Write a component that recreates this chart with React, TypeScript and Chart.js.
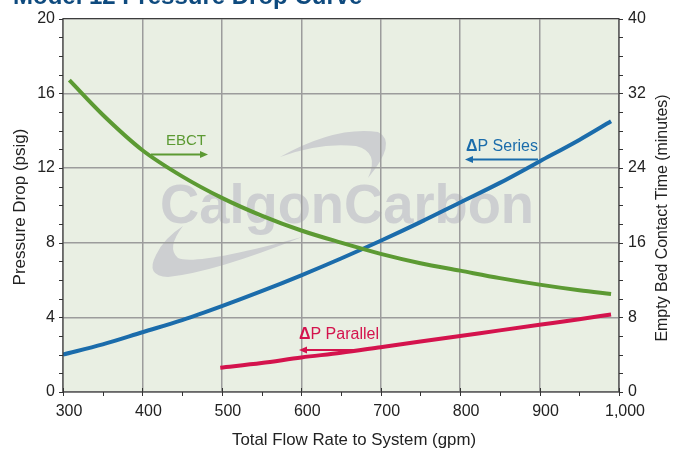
import React, { useEffect, useRef } from "react";
import { Chart, registerables } from "chart.js";

Chart.register(...registerables);

const flowSeries = [300, 350, 400, 450, 500, 550, 600, 650, 700, 750, 800, 850, 900, 950, 990];
const dpSeries = [2.0, 2.55, 3.2, 3.85, 4.6, 5.4, 6.25, 7.15, 8.1, 9.1, 10.15, 11.2, 12.35, 13.5, 14.5];

const flowEbct = [308, 350, 400, 450, 500, 550, 600, 650, 700, 750, 800, 850, 900, 950, 990];
const ebct = [33.4, 29.7, 25.9, 23.1, 20.8, 18.9, 17.3, 16.0, 14.8, 13.8, 13.0, 12.2, 11.5, 10.9, 10.5];

const flowParallel = [498, 550, 600, 650, 700, 750, 800, 850, 900, 950, 990];
const dpParallel = [1.3, 1.55, 1.85, 2.1, 2.4, 2.7, 3.0, 3.3, 3.6, 3.9, 4.15];

const title = "Model 12 Pressure Drop Curve";
const xTitle = "Total Flow Rate to System (gpm)";
const yTitle = "Pressure Drop (psig)";
const y1Title = "Empty Bed Contact Time (minutes)";

const BLUE = "#1b6cab";
const GREEN = "#5c9a33";
const RED = "#d4134d";
const NAVY = "#0e4a7e";
const FONT = "'Liberation Sans', Arial, sans-serif";

function arrow(ctx: CanvasRenderingContext2D, x1: number, x2: number, y: number, color: string) {
  ctx.save();
  ctx.strokeStyle = color;
  ctx.fillStyle = color;
  ctx.lineWidth = 2;
  const dir = x2 > x1 ? 1 : -1;
  ctx.beginPath();
  ctx.moveTo(x1, y);
  ctx.lineTo(x2 - dir * 5, y);
  ctx.stroke();
  ctx.beginPath();
  ctx.moveTo(x2, y);
  ctx.lineTo(x2 - dir * 8, y - 3.5);
  ctx.lineTo(x2 - dir * 8, y + 3.5);
  ctx.closePath();
  ctx.fill();
  ctx.restore();
}

const customPlugin = {
  id: "custom",
  beforeDraw(chart: any) {
    const { ctx, chartArea: a } = chart;
    ctx.save();
    ctx.fillStyle = "#e9efe3";
    ctx.fillRect(a.left, a.top, a.right - a.left, a.bottom - a.top);
    // watermark
    ctx.fillStyle = "#cdcfd1";
    ctx.font = `bold 56px ${FONT}`;
    ctx.textBaseline = "alphabetic";
    ctx.textAlign = "left";
    ctx.fillText("CalgonCarbon", 160, 223, 374);
    // upper swoosh
    ctx.beginPath();
    ctx.moveTo(280, 157);
    ctx.quadraticCurveTo(335, 126, 378, 132);
    ctx.quadraticCurveTo(398, 142, 368, 178);
    ctx.quadraticCurveTo(380, 152, 356, 146);
    ctx.quadraticCurveTo(320, 142, 280, 157);
    ctx.fill();
    // lower swoosh
    ctx.beginPath();
    ctx.moveTo(302, 237);
    ctx.quadraticCurveTo(215, 272, 168, 277);
    ctx.quadraticCurveTo(145, 276, 156, 255);
    ctx.quadraticCurveTo(164, 238, 183, 226);
    ctx.quadraticCurveTo(166, 248, 178, 258);
    ctx.quadraticCurveTo(195, 266, 302, 237);
    ctx.fill();
    ctx.restore();
  },
  afterDraw(chart: any) {
    const { ctx, chartArea: a, scales } = chart;
    const x = scales.x;
    const y = scales.y;
    ctx.save();
    // frame
    ctx.strokeStyle = "#333";
    ctx.lineWidth = 1;
    ctx.strokeRect(a.left, a.top, a.right - a.left, a.bottom - a.top);
    // tick marks
    ctx.beginPath();
    for (let v = 300; v <= 1000; v += 50) {
      const px = Math.round(x.getPixelForValue(v)) + 0.5;
      const major = v % 100 === 0;
      ctx.moveTo(px, a.bottom - (major ? 4 : 0));
      ctx.lineTo(px, a.bottom + 4);
    }
    for (let v = 0; v <= 20; v += 1) {
      const py = Math.round(y.getPixelForValue(v)) + 0.5;
      ctx.moveTo(a.left - 4, py);
      ctx.lineTo(a.left, py);
      ctx.moveTo(a.right, py);
      ctx.lineTo(a.right + 4, py);
    }
    ctx.stroke();

    // annotations
    ctx.textBaseline = "alphabetic";
    ctx.textAlign = "center";
    ctx.fillStyle = GREEN;
    ctx.font = `15px ${FONT}`;
    ctx.fillText("EBCT", 186, 145);
    arrow(ctx, 151, 208, 154.5, GREEN);

    // ΔP Series
    ctx.textAlign = "left";
    ctx.fillStyle = BLUE;
    ctx.font = `bold 16px ${FONT}`;
    ctx.fillText("Δ", 466, 151);
    let w = ctx.measureText("Δ").width;
    ctx.font = `16px ${FONT}`;
    ctx.fillText("P Series", 466 + w, 151);
    arrow(ctx, 538, 465, 159.5, BLUE);

    // ΔP Parallel
    ctx.fillStyle = RED;
    ctx.font = `bold 16px ${FONT}`;
    ctx.fillText("Δ", 299, 339);
    w = ctx.measureText("Δ").width;
    ctx.font = `16px ${FONT}`;
    ctx.fillText("P Parallel", 299 + w, 339);
    arrow(ctx, 355, 299, 350, RED);

    // title (cut off at top)
    ctx.fillStyle = NAVY;
    ctx.font = `bold 24px ${FONT}`;
    ctx.textAlign = "left";
    ctx.fillText(title, 13, 4, 356);

    // axis titles
    ctx.fillStyle = "#222";
    ctx.textAlign = "center";
    ctx.textBaseline = "middle";
    ctx.font = `17px ${FONT}`;
    ctx.fillText(xTitle, 354, 440, 244);
    ctx.save();
    ctx.translate(20, 207);
    ctx.rotate(-Math.PI / 2);
    ctx.fillText(yTitle, 0, 0, 166);
    ctx.restore();
    ctx.font = `16px ${FONT}`;
    ctx.save();
    ctx.translate(663, 218);
    ctx.rotate(-Math.PI / 2);
    ctx.fillText(y1Title, 0, 0, 247);
    ctx.restore();
    ctx.restore();
  },
};

export default function App() {
  const ref = useRef<HTMLCanvasElement>(null);
  useEffect(() => {
    document.body.style.margin = "0";
    const canvas = ref.current!;
    const chart = new Chart(canvas, {
      type: "line",
      data: {
        datasets: [
          {
            label: "EBCT",
            data: flowEbct.map((f, i) => ({ x: f, y: ebct[i] })),
            borderColor: GREEN,
            borderWidth: 4,
            pointRadius: 0,
            cubicInterpolationMode: "monotone",
            yAxisID: "y1",
          },
          {
            label: "ΔP Series",
            data: flowSeries.map((f, i) => ({ x: f, y: dpSeries[i] })),
            borderColor: BLUE,
            borderWidth: 4,
            pointRadius: 0,
            cubicInterpolationMode: "monotone",
            yAxisID: "y",
          },
          {
            label: "ΔP Parallel",
            data: flowParallel.map((f, i) => ({ x: f, y: dpParallel[i] })),
            borderColor: RED,
            borderWidth: 4,
            pointRadius: 0,
            cubicInterpolationMode: "monotone",
            yAxisID: "y",
          },
        ],
      },
      options: {
        animation: false,
        responsive: false,
        events: [],
        layout: { padding: { top: 15, left: 0, right: 0, bottom: 0 } },
        plugins: { legend: { display: false }, tooltip: { enabled: false }, title: { display: false } },
        scales: {
          x: {
            type: "linear",
            min: 300,
            max: 1000,
            ticks: {
              stepSize: 100,
              color: "#222",
              font: { family: FONT, size: 16 },
              padding: 10,
              labelOffset: 6,
              maxRotation: 0,
              callback: (v: any) => Number(v).toLocaleString("en-US"),
            },
            grid: { color: "#9c9c9c", lineWidth: 1.5, drawTicks: false },
            border: { display: false },
            afterFit: (s: any) => {
              s.height = 60;
            },
          },
          y: {
            position: "left",
            min: 0,
            max: 20,
            ticks: { stepSize: 4, color: "#222", font: { family: FONT, size: 16 }, padding: 8 },
            grid: { color: "#9c9c9c", lineWidth: 1.5, drawTicks: false },
            border: { display: false },
            afterFit: (s: any) => {
              s.width = 63;
            },
          },
          y1: {
            position: "right",
            min: 0,
            max: 40,
            ticks: { stepSize: 8, color: "#222", font: { family: FONT, size: 16 }, padding: 9 },
            grid: { display: false, drawTicks: false },
            border: { display: false },
            afterFit: (s: any) => {
              s.width = 65;
            },
          },
        },
      },
      plugins: [customPlugin],
    } as any);
    return () => chart.destroy();
  }, []);
  return (
    <div style={{ width: 684, height: 452 }}>
      <canvas ref={ref} width={684} height={452} style={{ display: "block" }} />
    </div>
  );
}
